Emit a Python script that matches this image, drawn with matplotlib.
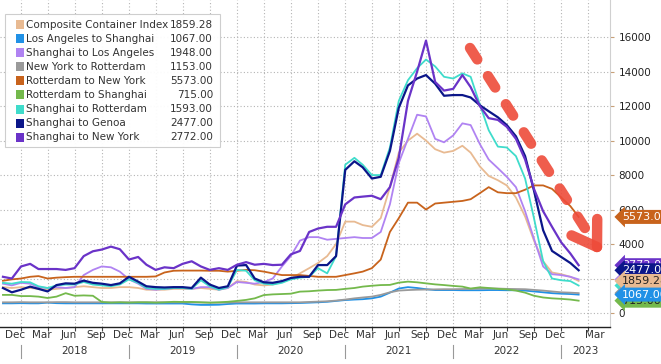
import numpy as np
import pandas as pd
import matplotlib
matplotlib.use("Agg")
import matplotlib.pyplot as plt
import matplotlib.dates as mdates
import matplotlib.transforms as mtrans
from matplotlib.lines import Line2D
from matplotlib.patches import Rectangle

# ---------------- data (monthly readings, Nov 2017 .. Mar 2023) ----------------
dates = pd.date_range("2017-11-01", periods=65, freq="MS")

composite = [1500, 1450, 1500, 1450, 1400, 1350, 1400, 1450, 1500, 1550, 1500, 1450, 1450, 1500,
             1500, 1450, 1350, 1350, 1350, 1400, 1400, 1400, 1450, 1400, 1350, 1450,
             1850, 1800, 1650, 1600, 1650, 1800, 2000, 2300, 2600, 2900, 3300, 4000,
             5300, 5300, 5100, 5000, 5500, 7300, 9300, 10000, 10400, 10000, 9500, 9300,
             9400, 9700, 9300, 8500, 7950, 7700, 7400, 6700, 5600, 4200, 3000, 2350,
             2250, 2100, 1859.28]
la_shanghai = [560, 560, 570, 560, 560, 600, 570, 560, 560, 560, 560, 560, 560, 560,
               560, 560, 550, 550, 550, 550, 550, 500, 470, 470, 480, 520,
               550, 550, 550, 560, 560, 560, 570, 580, 600, 620, 650, 700,
               750, 780, 800, 850, 950, 1180, 1420, 1500, 1450, 1380, 1330, 1330,
               1330, 1320, 1320, 1320, 1330, 1330, 1320, 1320, 1300, 1250, 1200, 1150,
               1120, 1100, 1067]
shanghai_la = [1700, 1600, 1750, 1700, 1500, 1450, 1500, 1450, 1500, 2200, 2500, 2700, 2650, 2400,
               1950, 1700, 1400, 1350, 1400, 1450, 1450, 1400, 1500, 1500, 1350, 1450,
               1800, 1750, 1700, 1800, 2000, 2700, 3300, 4200, 4400, 4400, 4250, 4300,
               4350, 4400, 4350, 4350, 4700, 6300, 8700, 10100, 11500, 11400, 10100, 9900,
               10300, 11000, 10900, 9800, 8900, 8400, 7900, 7300, 5900, 4300, 2700, 2250,
               2200, 2100, 1948]
ny_rotterdam = [620, 620, 630, 620, 620, 620, 630, 630, 620, 620, 620, 620, 620, 620,
                620, 620, 620, 620, 620, 620, 620, 620, 610, 600, 600, 610,
                620, 620, 620, 620, 620, 620, 620, 620, 640, 660, 680, 720,
                780, 850, 900, 950, 1050, 1200, 1300, 1330, 1350, 1360, 1370, 1380,
                1380, 1390, 1400, 1410, 1420, 1420, 1400, 1390, 1380, 1340, 1300, 1250,
                1200, 1180, 1153]
rotterdam_ny = [1870, 1950, 2000, 2100, 2140, 2000, 2050, 2080, 2100, 2100, 2100, 2100, 2100, 2100,
                2100, 2100, 2100, 2120, 2350, 2450, 2460, 2460, 2460, 2450, 2450, 2400,
                2450, 2500, 2480, 2400, 2300, 2200, 2200, 2200, 2150, 2100, 2100, 2100,
                2200, 2300, 2400, 2600, 3100, 4700, 5500, 6400, 6400, 6000, 6350, 6400,
                6450, 6500, 6600, 6950, 7300, 7000, 6950, 6950, 7150, 7400, 7400, 7200,
                6700, 6200, 5573]
rotterdam_shanghai = [1050, 1050, 980, 980, 950, 870, 950, 1150, 1000, 1020, 1000, 640, 600, 620,
                      600, 620, 620, 600, 620, 650, 640, 640, 620, 600, 620, 650,
                      700, 760, 850, 1040, 1080, 1100, 1120, 1240, 1260, 1300, 1330, 1340,
                      1400, 1450, 1530, 1580, 1620, 1630, 1760, 1820, 1780, 1720, 1660, 1620,
                      1570, 1530, 1420, 1490, 1450, 1400, 1370, 1300, 1180, 1000, 900, 850,
                      820, 780, 715]
shanghai_rotterdam = [1750, 1700, 1800, 1780, 1550, 1450, 1600, 1650, 1650, 1800, 1650, 1600, 1550, 1650,
                      1950, 1750, 1450, 1400, 1400, 1450, 1450, 1400, 1900, 1550, 1350, 1500,
                      2500, 2450, 1900, 1700, 1650, 1750, 1950, 2050, 2100, 2600, 2300, 3300,
                      8600, 9000, 8600, 8000, 8000, 9600, 12300, 13500, 14200, 14700, 14300, 13700,
                      13600, 13900, 13700, 12100, 10600, 9650, 9600, 9100, 7800, 5500, 3000, 2000,
                      1900, 1850, 1593]
shanghai_genoa = [1450, 1200, 1350, 1530, 1400, 1250, 1620, 1720, 1700, 1880, 1750, 1700, 1620, 1720,
                  2100, 1820, 1550, 1500, 1480, 1500, 1500, 1450, 2050, 1650, 1450, 1550,
                  2750, 2780, 2000, 1780, 1750, 1850, 2030, 2100, 2100, 2780, 2780, 3300,
                  8300, 8800, 8450, 7800, 7900, 9400, 11900, 13200, 13600, 13800, 13300, 12600,
                  12640, 12640, 12500, 12050, 11700, 11350, 10900, 10250, 9100, 7100, 4800, 3600,
                  3250, 2900, 2477]
shanghai_ny = [2100, 2000, 2700, 2850, 2550, 2550, 2550, 2500, 2600, 3300, 3580, 3680, 3850, 3700,
               3100, 3250, 2800, 2500, 2650, 2600, 2850, 3000, 2700, 2500, 2600, 2500,
               2800, 2950, 2800, 2850, 2780, 2800, 3400, 3600, 4700, 4900, 5000, 5000,
               6300, 6700, 6750, 6800, 6600, 7300, 9000, 12300, 14000, 15800, 13400, 12900,
               13000, 13800, 13100, 12000, 11300, 11200, 10800, 10100, 8900, 7200, 5900, 5000,
               4100, 3450, 2772]

names = ["Composite Container Index", "Los Angeles to Shanghai", "Shanghai to Los Angeles",
         "New York to Rotterdam", "Rotterdam to New York", "Rotterdam to Shanghai",
         "Shanghai to Rotterdam", "Shanghai to Genoa", "Shanghai to New York"]
last_values = [1859.28, 1067.00, 1948.00, 1153.00, 5573.00, 715.00, 1593.00, 2477.00, 2772.00]
series = [composite, la_shanghai, shanghai_la, ny_rotterdam, rotterdam_ny,
          rotterdam_shanghai, shanghai_rotterdam, shanghai_genoa, shanghai_ny]
colors = ["#E8BA92", "#2191E6", "#B083F2", "#9A9A9A", "#C8631C",
          "#74B94C", "#3FDCCB", "#0B1689", "#6A33C8"]
tag_text_colors = ["#222222", "white", "white", "white", "white", "#222222", "#222222", "white", "white"]
tag_order = [8, 2, 6, 3, 5, 7, 0, 1, 4]

month_labels = ["Dec", "Mar", "Jun", "Sep"] * 5 + ["Dec", "Mar"]
month_label_dates = list(pd.date_range("2017-12-01", "2022-12-01", freq="3MS") + pd.Timedelta(days=11)) \
    + [pd.Timestamp("2023-04-25")]
year_labels = ["2018", "2019", "2020", "2021", "2022", "2023"]
year_label_dates = [pd.Timestamp(f"{y}-07-01") for y in year_labels[:-1]] + [pd.Timestamp("2023-03-25")]
year_sep_dates = [pd.Timestamp(f"{y}-01-01") for y in year_labels]

# ---------------- figure ----------------
W, H = 661, 364
plt.rcParams["font.family"] = ["DejaVu Sans"]
fig = plt.figure(figsize=(W / 100, H / 100), dpi=100)
ax_bottom_px, ax_right_px = 327, 610
ax = fig.add_axes([0, (H - ax_bottom_px) / H, ax_right_px / W, ax_bottom_px / H])

for s, c in zip(series, colors):
    lw = 1.6 if c in ("#0B1689", "#6A33C8") else 1.3
    ax.plot(dates, s, color=c, lw=lw, solid_joinstyle="round")

ax.set_xlim(pd.Timestamp("2017-10-22"), pd.Timestamp("2023-06-15"))
ax.set_ylim(-812, 18154)

# grid & ticks
ax.yaxis.tick_right()
ax.set_yticks(np.arange(0, 16001, 2000))
ax.tick_params(axis="y", length=3, width=0.8, color="#c8a078", pad=3, labelsize=7.5, labelcolor="#222222")
ax.xaxis.set_major_locator(mdates.MonthLocator(bymonth=[1, 4, 7, 10]))
ax.xaxis.set_major_formatter(plt.NullFormatter())
ax.tick_params(axis="x", length=3, width=0.8, color="#444444")
ax.grid(True, which="major", ls=(0, (1, 2)), color="#b4b4b4", lw=0.8)
ax.set_axisbelow(True)
for sp in ("top", "left"):
    ax.spines[sp].set_visible(False)
ax.spines["bottom"].set_color("#222222")
ax.spines["bottom"].set_linewidth(1.0)
ax.spines["right"].set_color("#d0d0d0")
ax.spines["right"].set_linewidth(0.8)

# month & year labels
tr = mtrans.blended_transform_factory(ax.transData, ax.transAxes)
def ay(py):  # pixel y (from top) -> axes fraction
    return (ax_bottom_px - py) / ax_bottom_px

for d, t in zip(month_label_dates, month_labels):
    ax.text(d, ay(335), t, transform=tr, ha="center", va="center", fontsize=7.5,
            color="#333333", clip_on=False)
for d, t in zip(year_label_dates, year_labels):
    ax.text(d, ay(351), t, transform=tr, ha="center", va="center", fontsize=7.5,
            color="#333333", clip_on=False)
for d in year_sep_dates:
    ax.add_line(Line2D([mdates.date2num(d)] * 2, [ay(345), ay(358)], transform=tr,
                       color="#999999", lw=0.8, clip_on=False))

# right-hand value tags
tr_tag = mtrans.blended_transform_factory(ax.transAxes, ax.transData)
for i in tag_order:
    ax.text(1.0 + 12 / ax_right_px, last_values[i], f"{last_values[i]:.2f}", transform=tr_tag,
            ha="left", va="center", fontsize=8, color=tag_text_colors[i], clip_on=False, zorder=20,
            bbox=dict(boxstyle="larrow,pad=0.18", fc=colors[i], ec="none"))

# legend (drawn manually)
def fx(px):
    return px / W
def fy(py):
    return 1 - py / H

fig.patches.append(Rectangle((fx(5), fy(147)), fx(215), 133 / H, transform=fig.transFigure,
                             fc="white", ec="#cccccc", lw=0.8, alpha=0.95, zorder=5))
for i, (n, c, v) in enumerate(zip(names, colors, last_values)):
    yc = 24.5 + 14.1 * i
    fig.patches.append(Rectangle((fx(16), fy(yc + 4.5)), fx(8), 9 / H, transform=fig.transFigure,
                                 fc=c, ec="none", zorder=6))
    fig.text(fx(26), fy(yc), n, ha="left", va="center", fontsize=7.5, color="#333333", zorder=7)
    fig.text(fx(213), fy(yc), f"{v:.2f}", ha="right", va="center", fontsize=7.5, color="#333333", zorder=7)

# red dashed trend arrow
p0 = np.array([470.0, 48.0])
tip = np.array([597.0, 247.0])
u = (tip - p0) / np.linalg.norm(tip - p0)
p1 = tip - u * 12
red = "#EE4B3A"
fig.add_artist(Line2D([fx(p0[0]), fx(p1[0])], [fy(p0[1]), fy(p1[1])], transform=fig.transFigure,
                      color=red, lw=7.5, alpha=0.9, dashes=(1.3, 1.9), dash_capstyle="round", zorder=8))
b = -u
for ang in (np.deg2rad(33), np.deg2rad(-33)):
    rot = np.array([[np.cos(ang), -np.sin(ang)], [np.sin(ang), np.cos(ang)]])
    e = tip + 28 * rot @ b
    fig.add_artist(Line2D([fx(tip[0]), fx(e[0])], [fy(tip[1]), fy(e[1])], transform=fig.transFigure,
                          color=red, lw=7.5, alpha=0.9, solid_capstyle="round", zorder=8))

fig.savefig("out.png", dpi=100)
